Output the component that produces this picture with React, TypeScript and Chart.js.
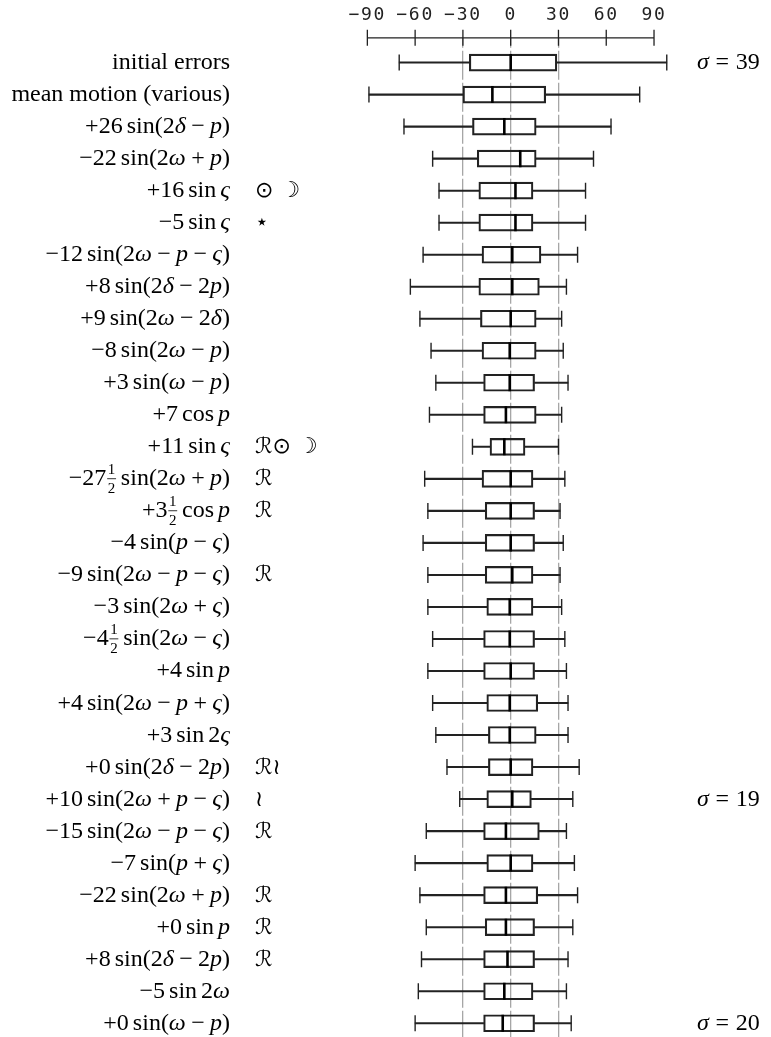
import { useEffect, useRef } from "react";
import { Chart, registerables } from "chart.js";

Chart.register(...registerables);

// ---- data ----
const rowLabels = [
  "initial errors",
  "mean motion (various)",
  "+26 sin(2δ − p)",
  "−22 sin(2ω + p)",
  "+16 sin ς",
  "−5 sin ς",
  "−12 sin(2ω − p − ς)",
  "+8 sin(2δ − 2p)",
  "+9 sin(2ω − 2δ)",
  "−8 sin(2ω − p)",
  "+3 sin(ω − p)",
  "+7 cos p",
  "+11 sin ς",
  "−27½ sin(2ω + p)",
  "+3½ cos p",
  "−4 sin(p − ς)",
  "−9 sin(2ω − p − ς)",
  "−3 sin(2ω + ς)",
  "−4½ sin(2ω − ς)",
  "+4 sin p",
  "+4 sin(2ω − p + ς)",
  "+3 sin 2ς",
  "+0 sin(2δ − 2p)",
  "+10 sin(2ω + p − ς)",
  "−15 sin(2ω − p − ς)",
  "−7 sin(p + ς)",
  "−22 sin(2ω + p)",
  "+0 sin p",
  "+8 sin(2δ − 2p)",
  "−5 sin 2ω",
  "+0 sin(ω − p)",
];

const rowMarks = [
  "", "", "", "", "⊙ ☽", "⋆", "", "", "", "", "", "", "ℛ⊙ ☽", "ℛ", "ℛ", "",
  "ℛ", "", "", "", "", "", "ℛ≀", "≀", "ℛ", "", "ℛ", "ℛ", "ℛ", "", "",
];

const whiskerLow = [-70, -89, -67, -49, -45, -45, -55, -63, -57, -50, -47, -51, -24, -54, -52, -55, -52, -52, -49, -52, -49, -47, -40, -32, -53, -60, -57, -53, -56, -58, -60];
const boxLow = [-26, -30, -24, -21, -20, -20, -18, -20, -19, -18, -17, -17, -13, -18, -16, -16, -16, -15, -17, -17, -15, -14, -14, -15, -17, -15, -17, -16, -17, -17, -17];
const medians = [0, -11.5, -4, 6, 3, 3, 1, 1, 0, -0.6, -0.6, -3, -4, 0, 0, 0, 1, -0.6, -0.6, 0, -0.6, -0.6, 0, 1, -3, 0, -3, -3, -2, -4, -5];
const boxHigh = [29, 22, 16, 16, 14, 14, 19, 18, 16, 16, 15, 16, 9, 14, 15, 15, 14, 14, 15, 15, 17, 16, 14, 13, 18, 14, 17, 15, 15, 14, 15];
const whiskerHigh = [98, 81, 63, 52, 47, 47, 42, 35, 32, 33, 36, 32, 30, 34, 31, 33, 31, 32, 34, 35, 36, 36, 43, 39, 35, 40, 42, 39, 36, 35, 38];

const sigmaRows = [0, 23, 30];
const sigmaLabels = ["σ = 39", "σ = 19", "σ = 20"];

const tickValues = [-90, -60, -30, 0, 30, 60, 90];
const guideValues = [-30, 0, 30];

// ---- text helpers ----
const EM = 24;
const ROMAN = '24px "Liberation Serif", "Times New Roman", serif';
const ITALIC = 'italic 24px "Liberation Serif", "Times New Roman", serif';
const FRAC = '15px "Liberation Serif", "Times New Roman", serif';
const MARK = '22px "DejaVu Sans", "Noto Sans", sans-serif';

type Piece = { t?: string; font?: string; w: number; frac?: boolean };

function mathPieces(ctx: CanvasRenderingContext2D, s: string): Piece[] {
  const out: Piece[] = [];
  if (/^[a-z ()]+$/.test(s)) {
    ctx.font = ROMAN;
    out.push({ t: s, font: ROMAN, w: ctx.measureText(s).width });
    return out;
  }
  const tokens = s.match(/\d+|[A-Za-z]{2,}|[A-Za-z\u03b1-\u03c9]|½|\s|./gu) || [];
  tokens.forEach((tk, k) => {
    if (tk === " ") {
      const nb = (tokens[k - 1] || "") + (tokens[k + 1] || "");
      const w = nb.includes("=") ? 0.278 : /[+−]/.test(nb) ? 0.222 : 0.167;
      out.push({ w: w * EM });
      return;
    }
    if (tk === "½") {
      ctx.font = FRAC;
      out.push({ frac: true, w: ctx.measureText("1").width + 3 });
      return;
    }
    const font = /^[A-Za-z\u03b1-\u03c9]$/u.test(tk) ? ITALIC : ROMAN;
    ctx.font = font;
    out.push({ t: tk, font, w: ctx.measureText(tk).width });
  });
  return out;
}

function drawMath(ctx: CanvasRenderingContext2D, s: string, x: number, y: number, align: "left" | "right") {
  const parts = mathPieces(ctx, s);
  const total = parts.reduce((a, p) => a + p.w, 0);
  let cx = align === "right" ? x - total : x;
  ctx.textBaseline = "alphabetic";
  for (const p of parts) {
    if (p.frac) {
      ctx.font = FRAC;
      ctx.textAlign = "center";
      const mid = cx + p.w / 2;
      ctx.fillText("1", mid, y - 11.5);
      ctx.fillText("2", mid, y + 7.5);
      ctx.fillRect(cx + 0.8, y - 7, p.w - 1.6, 0.8);
    } else if (p.t) {
      ctx.font = p.font!;
      ctx.textAlign = "left";
      ctx.fillText(p.t, cx, y);
    }
    cx += p.w;
  }
}

const axisPlugin = {
  id: "topAxisLine",
  beforeDraw(chart: any) {
    (chart.ctx as any).letterSpacing = "1.7px";
  },
  beforeDatasetsDraw(chart: any) {
    (chart.ctx as any).letterSpacing = "0px";
  },
  afterDatasetsDraw(chart: any) {
    const ctx: CanvasRenderingContext2D = chart.ctx;
    const xs = chart.scales.x;
    const y0 = chart.chartArea.top + 0.2;
    ctx.save();
    ctx.strokeStyle = "#222";
    ctx.lineWidth = 1.3;
    ctx.beginPath();
    ctx.moveTo(xs.getPixelForValue(tickValues[0]), y0);
    ctx.lineTo(xs.getPixelForValue(tickValues[tickValues.length - 1]), y0);
    for (const v of tickValues) {
      const px = xs.getPixelForValue(v);
      ctx.moveTo(px, y0 - 8);
      ctx.lineTo(px, y0 + 8);
    }
    ctx.stroke();
    ctx.restore();
  },
};

const labelPlugin = {
  id: "rowLabels",
  afterDraw(chart: any) {
    const ctx: CanvasRenderingContext2D = chart.ctx;
    const ys = chart.scales.y;
    ctx.save();
    (ctx as any).letterSpacing = "0px";
    ctx.fillStyle = "#000";
    rowLabels.forEach((lab, i) => {
      const y = ys.getPixelForValue(i) + 6.5;
      drawMath(ctx, lab, 230, y, "right");
      if (rowMarks[i]) {
        ctx.font = MARK;
        ctx.textAlign = "left";
        ctx.fillText(rowMarks[i], 255, y);
      }
    });
    sigmaRows.forEach((r, k) => {
      const y = ys.getPixelForValue(r) + 6.5;
      drawMath(ctx, sigmaLabels[k], 697, y, "left");
    });
    ctx.restore();
  },
};

export default function App() {
  const ref = useRef<HTMLCanvasElement>(null);
  useEffect(() => {
    document.body.style.margin = "0";
    const canvas = ref.current!;
    const idx = rowLabels.map((_, i) => i);
    const whiskerStyle = {
      type: "bar" as const,
      grouped: false,
      barThickness: 1.4,
      backgroundColor: "#222",
      borderWidth: 0,
      order: 3,
    };
    const chart = new Chart(canvas, {
      type: "bar",
      data: {
        datasets: [
          { ...whiskerStyle, label: "lower whisker", data: idx.map((i) => ({ x: [whiskerLow[i], boxLow[i]], y: i })) } as any,
          { ...whiskerStyle, label: "upper whisker", data: idx.map((i) => ({ x: [boxHigh[i], whiskerHigh[i]], y: i })) } as any,
          {
            type: "bar",
            grouped: false,
            label: "interquartile range",
            barThickness: 17,
            backgroundColor: "rgba(255,255,255,0)",
            borderColor: "#222",
            borderWidth: 1.5,
            borderSkipped: false,
            order: 2,
            data: idx.map((i) => ({ x: [boxLow[i], boxHigh[i]], y: i })),
          } as any,
          {
            type: "scatter",
            label: "median",
            indexAxis: "x",
            data: idx.map((i) => ({ x: medians[i], y: i })),
            pointStyle: "line",
            pointRotation: 90,
            pointRadius: 8.5,
            pointBorderWidth: 2.6,
            pointBorderColor: "#000",
            pointBackgroundColor: "#000",
            order: 1,
          } as any,
          {
            type: "scatter",
            label: "whisker caps",
            indexAxis: "x",
            data: [
              ...idx.map((i) => ({ x: whiskerLow[i], y: i })),
              ...idx.map((i) => ({ x: whiskerHigh[i], y: i })),
            ],
            pointStyle: "line",
            pointRotation: 90,
            pointRadius: 8,
            pointBorderWidth: 1.4,
            pointBorderColor: "#222",
            pointBackgroundColor: "#222",
            order: 1,
          } as any,
        ],
      },
      options: {
        indexAxis: "y",
        responsive: false,
        animation: false,
        events: [],
        devicePixelRatio: 1,
        layout: { autoPadding: false, padding: { top: -7, left: 335.5, right: 69.2, bottom: 0 } },
        plugins: { legend: { display: false }, tooltip: { enabled: false } },
        scales: {
          x: {
            type: "linear",
            position: "top",
            offset: false,
            beginAtZero: false,
            min: -110,
            max: 120,
            afterBuildTicks: (axis: any) => {
              axis.ticks = tickValues.map((value) => ({ value }));
            },
            ticks: {
              autoSkip: false,
              maxRotation: 0,
              padding: 11.5,
              color: "#222",
              font: { family: '"DejaVu Sans Mono", monospace', size: 18, lineHeight: 1.2 },
              callback: (v: any) => (Number(v) < 0 ? "−" + Math.abs(Number(v)) : String(v)),
            },
            grid: {
              display: true,
              offset: false,
              drawTicks: false,
              lineWidth: 1.3,
              color: (c: any) => (c.tick && guideValues.includes(c.tick.value) ? "#a6a6a6" : "rgba(0,0,0,0)"),
            },
            border: { display: false, dash: [29, 3], dashOffset: 19.3 },
          },
          y: {
            type: "linear",
            display: false,
            offset: false,
            beginAtZero: false,
            reverse: true,
            min: -0.78,
            max: 30.43,
            grid: { offset: false },
          },
        },
      } as any,
      plugins: [axisPlugin, labelPlugin],
    });
    return () => chart.destroy();
  }, []);
  return (
    <div style={{ position: "fixed", left: 0, top: 0, width: 771, height: 1037, background: "#fff" }}>
      <canvas ref={ref} width={771} height={1037} style={{ width: 771, height: 1037, display: "block" }} />
    </div>
  );
}
